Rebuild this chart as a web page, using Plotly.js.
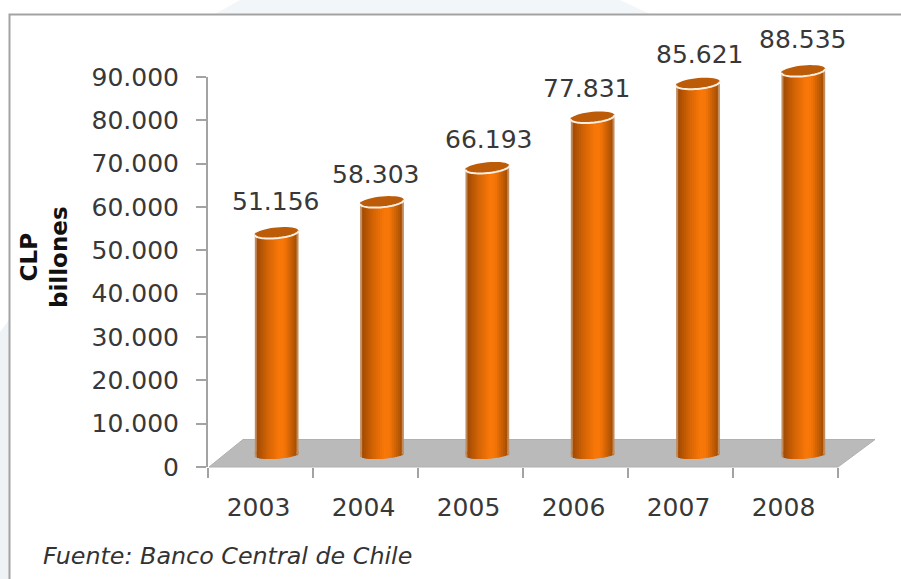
<!DOCTYPE html>
<html><head><meta charset="utf-8">
<script src="https://cdn.plot.ly/plotly-3.0.1.min.js"></script>
<style>html,body{margin:0;padding:0;background:#fff}#c{width:901px;height:579px}</style>
</head><body><div id="c"></div>
<script>
const years = ['2003','2004','2005','2006','2007','2008'];
const values = [51156,58303,66193,77831,85621,88535];
const labelShiftX = [-1,-7,1,-6,1,-1];
const labelShiftY = [31,27,28,29,29,31];
const yTicks = [0,10000,20000,30000,40000,50000,60000,70000,80000,90000];
const shadeStops = [[0,'#e9d3bf'],[0.03,'#b4743c'],[0.06,'#a44c04'],[0.3,'#d46405'],[0.55,'#f87708'],[0.68,'#f67607'],[0.94,'#a85004'],[0.97,'#b4743c'],[1,'#e9d3bf']];

const hex=h=>[1,3,5].map(i=>parseInt(h.substr(i,2),16));
function shadeAt(t){
  for(let i=1;i<shadeStops.length;i++){
    if(t<=shadeStops[i][0]){
      const [a,ca]=shadeStops[i-1],[b,cb]=shadeStops[i],u=(t-a)/(b-a),A=hex(ca),B=hex(cb);
      return 'rgb('+A.map((v,k)=>Math.round(v+(B[k]-v)*u)).join(',')+')';
    }
  }
  return shadeStops[shadeStops.length-1][1];
}

const W=901,H=579, L=208,R=856,T=60,B=467;
const pw=R-L, ph=B-T;
const px=x=>(x-L)/pw, py=y=>(B-y)/ph;
const pxPerUnit=390/90000, unitsDown=2000;
const y2Base=454.5, y2Bottom=y2Base+unitsDown*pxPerUnit, y2Top=y2Base-90000*pxPerUnit;
const idx=years.map((_,i)=>i);
const barW=0.415, nStrips=22, stripW=barW/nStrips;
const capH=5.4/pxPerUnit, tilt=2/pxPerUnit;

const traces=[{type:'scatter',mode:'none',x:years,y:values,xaxis:'x',yaxis:'y',hoverinfo:'skip',showlegend:false}];
for(let s=0;s<nStrips;s++){
  const c=shadeAt((s+0.5)/nStrips);
  const off=-barW/2+s*stripW;
  const wide=(s===nStrips-1)?stripW:stripW*1.6;
  const t=(off+stripW/2)/(barW/2);
  const drop=capH*0.8*Math.sqrt(Math.max(0,1-t*t))-tilt*t*0.8;
  const common={type:'bar',x:idx,width:wide,offset:off,opacity:1,marker:{color:c,opacity:1,line:{width:0}},xaxis:'x2',yaxis:'y2',hoverinfo:'skip',showlegend:false};
  traces.push(Object.assign({},common,{y:values,base:0}));
  traces.push(Object.assign({},common,{y:idx.map(()=>drop+700),base:idx.map(()=>-drop)}));
}

function capPath(i,from,to,close){
  const n=40, pts=[];
  for(let k=0;k<=n;k++){
    const a=from+(to-from)*k/n;
    const dx=Math.cos(a), dy=Math.sin(a);
    pts.push((i+dx*barW/2)+','+(values[i]+dy*capH+dx*tilt));
  }
  return 'M'+pts.join('L')+(close?'Z':'');
}
const poly=p=>'M'+p.map(q=>px(q[0])+','+py(q[1])).join('L')+'Z';
const shapes=[
 {type:'path',xref:'paper',yref:'paper',path:poly([[213,15],[240,0],[620,0],[652,15]]),fillcolor:'#f3f6f8',line:{width:0},layer:'below'},
 {type:'path',xref:'paper',yref:'paper',path:poly([[0,332],[9,320],[9,579],[0,579]]),fillcolor:'#eff3f6',line:{width:0},layer:'below'},
 {type:'rect',xref:'paper',yref:'paper',x0:px(9.5),x1:px(940),y0:py(14.5),y1:py(640),line:{color:'#a3a3a3',width:2},fillcolor:'#ffffff',layer:'below'},
 {type:'path',xref:'paper',yref:'paper',path:poly([[209,467],[838,467],[875,439.5],[243,439.5]]),fillcolor:'#bababa',line:{color:'#b0b0b0',width:1},layer:'below'}
];
idx.forEach(i=>{
  shapes.push({type:'path',xref:'x2',yref:'y2',path:capPath(i,0,2*Math.PI,true),fillcolor:'#bc5c08',line:{width:0},layer:'above'});
  shapes.push({type:'path',xref:'x2',yref:'y2',path:capPath(i,Math.PI,2*Math.PI,false),line:{color:'#fbeee2',width:2},layer:'above'});
});

const fmt=v=>String(v).replace(/\B(?=(\d{3})+$)/g,'.');
const annotations=idx.map(i=>({xref:'x2',yref:'y2',x:i,y:values[i],text:fmt(values[i]),showarrow:false,xshift:labelShiftX[i],yshift:labelShiftY[i],font:{family:'DejaVu Sans',size:25,color:'#383838'}}));
annotations.push({xref:'paper',yref:'paper',x:px(41),y:py(556),xanchor:'left',yanchor:'middle',text:'<i>Fuente: Banco Central de Chile</i>',showarrow:false,font:{family:'DejaVu Sans',size:23.8,color:'#333333'}});
annotations.push({xref:'paper',yref:'paper',x:px(44),y:py(257),xanchor:'center',yanchor:'middle',textangle:-90,text:'<b>CLP<br>billones</b>',showarrow:false,font:{family:'DejaVu Sans',size:23,color:'#111111'}});

const tickFont={family:'DejaVu Sans',size:25,color:'#383838'};
Plotly.newPlot('c',traces,{
 width:W,height:H,margin:{l:L,r:W-R,t:T,b:H-B,pad:0},
 paper_bgcolor:'#ffffff',plot_bgcolor:'rgba(0,0,0,0)',
 barmode:'overlay',showlegend:false,separators:',.',
 xaxis:{type:'category',categoryorder:'array',categoryarray:years,range:[-0.5,5.5],domain:[0,(838-L)/pw],anchor:'y',tickson:'boundaries',ticks:'outside',ticklen:10,tickwidth:2,tickcolor:'#a3a3a3',showline:false,showgrid:false,zeroline:false,tickfont:tickFont,ticklabelstandoff:23,ticklabelshift:-2,fixedrange:true},
 yaxis:{range:[0,90000],domain:[0,390/ph],anchor:'x',tickvals:yTicks,tickformat:',d',ticks:'outside',ticklen:10,tickwidth:2,tickcolor:'#a3a3a3',showline:true,linecolor:'#a3a3a3',linewidth:2,showgrid:false,zeroline:false,tickfont:tickFont,ticklabelstandoff:12,fixedrange:true},
 xaxis2:{range:[-0.5,5.5],domain:[16/pw,1],anchor:'y2',visible:false,fixedrange:true},
 yaxis2:{range:[-unitsDown,90000],domain:[py(y2Bottom),py(y2Top)],anchor:'x2',visible:false,fixedrange:true},
 shapes,annotations
},{displayModeBar:false,staticPlot:true});
</script></body></html>
